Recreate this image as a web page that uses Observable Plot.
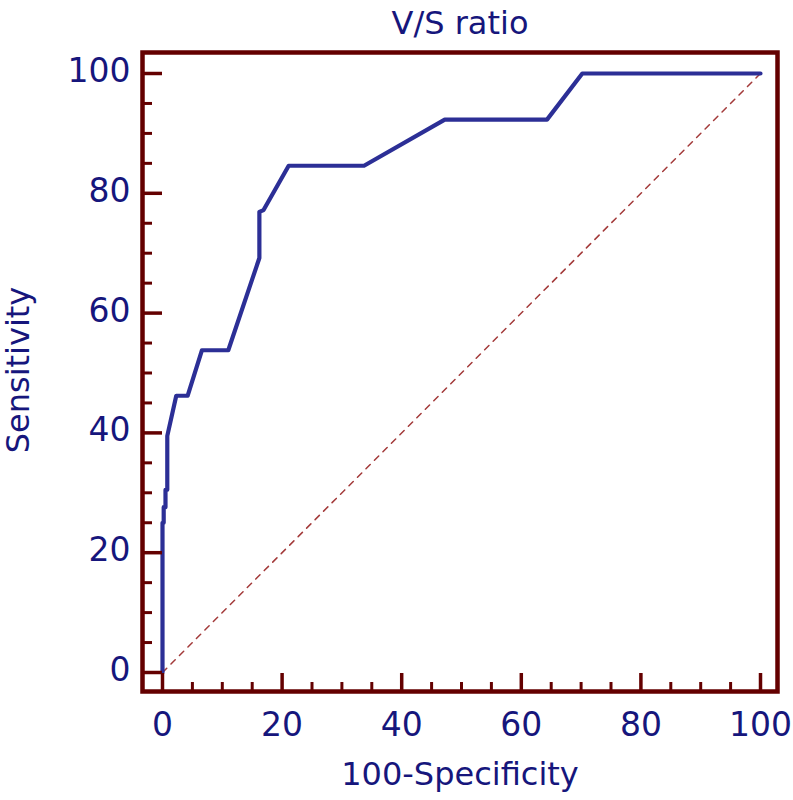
<!DOCTYPE html>
<html><head><meta charset="utf-8">
<script src="https://cdn.jsdelivr.net/npm/d3@7"></script>
<script src="https://cdn.jsdelivr.net/npm/@observablehq/plot@0.6"></script>
<style>body{margin:0;background:#fff;}</style>
</head><body><div id="chart"></div>
<script>
const title = "V/S ratio";
const xLabel = "100-Specificity";
const yLabel = "Sensitivity";
// ROC curve points (100-Specificity, Sensitivity)
const fpr  = [0, 0,  0.2,  0.2,  0.5,  0.5,  0.8,  0.8,  2.3,  4.2,  6.6, 11.0, 16.2, 16.2, 16.9, 21.1, 33.7, 47.2, 64.3, 70.2, 100];
const sens = [0, 25.0, 25.0, 27.6, 27.6, 30.5, 30.5, 39.5, 46.2, 46.2, 53.8, 53.8, 69.2, 76.9, 77.2, 84.6, 84.6, 92.3, 92.3, 100, 100];
// reference diagonal
const diagX = [0, 100];
const diagY = [0, 100];
const majorTicks = [0, 20, 40, 60, 80, 100];
const minorTicks = [5, 10, 15, 25, 30, 35, 45, 50, 55, 65, 70, 75, 85, 90, 95];

const maroon = "#640000";
const navy = "#16167c";
const blue = "#2c2f96";
const font = "DejaVu Sans";

const rocData = fpr.map((x, i) => ({x, y: sens[i]}));
const diagData = diagX.map((x, i) => ({x, y: diagY[i]}));

const plot = Plot.plot({
  width: 793,
  height: 800,
  marginLeft: 142,
  marginRight: 16,
  marginTop: 52,
  marginBottom: 109,
  style: {fontFamily: font, background: "#fff"},
  x: {domain: [0, 100], range: [162, 760]},
  y: {domain: [0, 100], range: [672, 73]},
  marks: [
    Plot.line(diagData, {x: "x", y: "y", stroke: "#a33a3a", strokeWidth: 1.5, strokeDasharray: "6,6"}),
    Plot.line(rocData, {x: "x", y: "y", stroke: blue, strokeWidth: 4.2, curve: "linear", strokeLinejoin: "round"}),
    Plot.axisX(minorTicks, {anchor: "bottom", tickSize: 9, dy: -9, fill: "none", stroke: maroon, strokeWidth: 3, label: null}),
    Plot.axisX(majorTicks, {anchor: "bottom", tickSize: 18, dy: -18, fill: "none", stroke: maroon, strokeWidth: 3.5, label: null}),
    Plot.axisX(majorTicks, {anchor: "bottom", tickSize: 0, tickPadding: 21, stroke: "none", fill: navy, fontSize: 33, label: null}),
    Plot.axisY(minorTicks, {anchor: "left", tickSize: 10, dx: 10, fill: "none", stroke: maroon, strokeWidth: 3, label: null}),
    Plot.axisY(majorTicks, {anchor: "left", tickSize: 20, dx: 20, fill: "none", stroke: maroon, strokeWidth: 3.5, label: null}),
    Plot.axisY(majorTicks, {anchor: "left", tickSize: 0, tickPadding: 12, dy: -2, stroke: "none", fill: navy, fontSize: 33, label: null}),
    Plot.frame({stroke: maroon, strokeWidth: 4.5}),
    Plot.text([title], {text: d => d, frameAnchor: "top", textAnchor: "middle", dy: -19, lineAnchor: "bottom", fill: navy, fontSize: 32}),
    Plot.text([xLabel], {text: d => d, frameAnchor: "bottom", textAnchor: "middle", dy: 93, lineAnchor: "bottom", fill: navy, fontSize: 32}),
    Plot.text([yLabel], {text: d => d, frameAnchor: "left", textAnchor: "middle", dx: -114, dy: -2, rotate: -90, lineAnchor: "bottom", fill: navy, fontSize: 32})
  ]
});
document.getElementById("chart").appendChild(plot);
</script>
</body></html>
